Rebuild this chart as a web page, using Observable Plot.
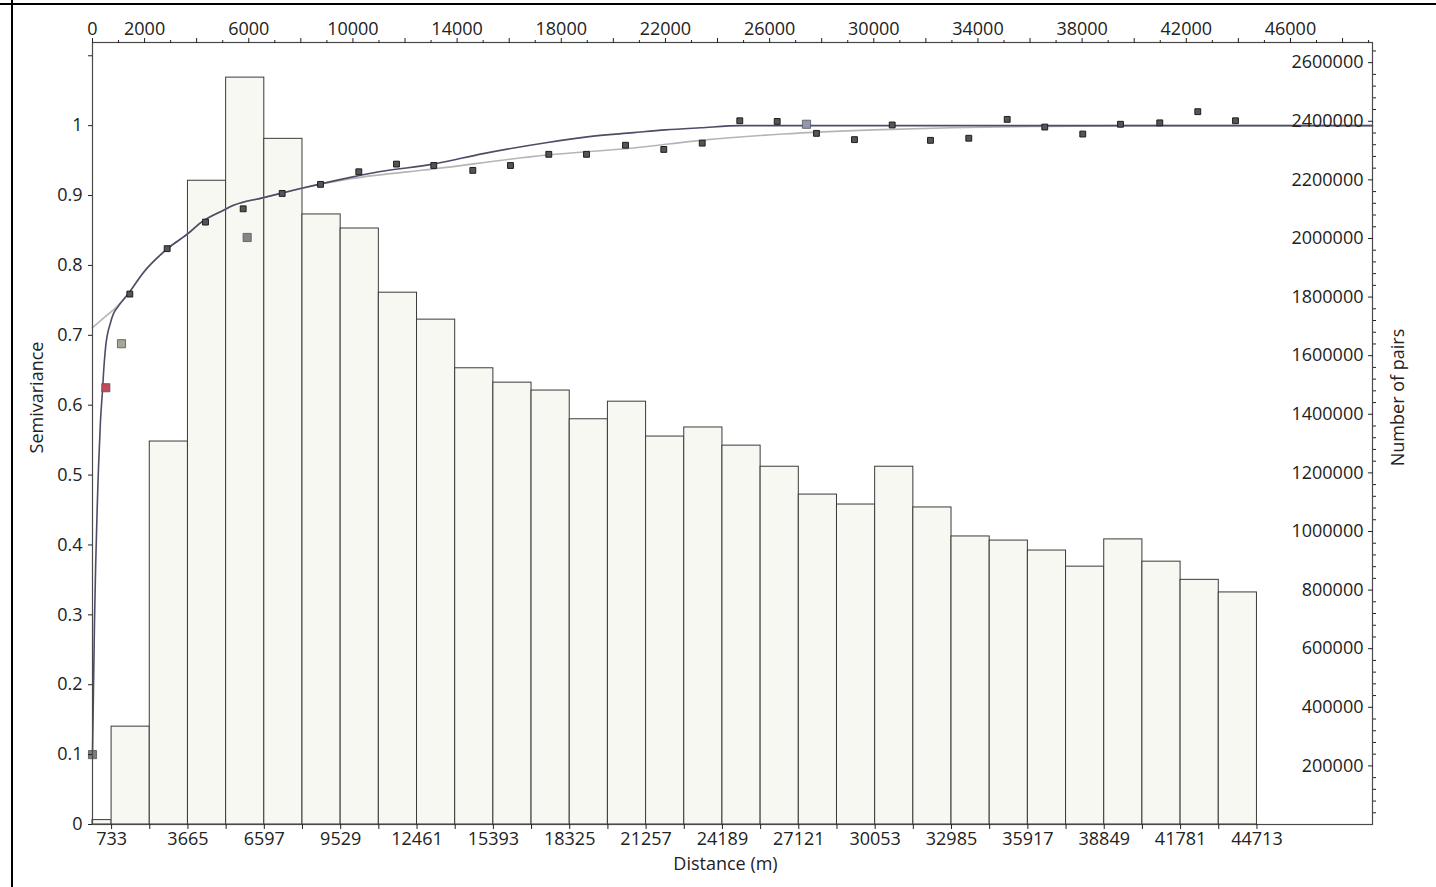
<!DOCTYPE html>
<html><head><meta charset="utf-8">
<script src="https://cdn.jsdelivr.net/npm/d3@7"></script>
<script src="https://cdn.jsdelivr.net/npm/@observablehq/plot@0.6"></script>
<style>
body{margin:0;background:#fff;}
#wrap{position:relative;width:1436px;height:887px;overflow:hidden;}
.hline{position:absolute;left:0;top:3px;width:1436px;height:2px;background:#000;}
.vline{position:absolute;left:11px;top:0;width:2px;height:887px;background:#000;}
</style></head><body>
<div id="wrap"><div id="chart"></div><div class="hline"></div><div class="vline"></div></div>
<script>
// Histogram bins (distance, m) and number of pairs per bin
const binEdges = [0, 733, 2199, 3665, 5131, 6597, 8063, 9529, 10995, 12461, 13927, 15393, 16859, 18325, 19791, 21257, 22723, 24189, 25655, 27121, 28587, 30053, 31519, 32985, 34451, 35917, 37383, 38849, 40315, 41781, 43247, 44713];
const pairCounts = [15000, 334000, 1307000, 2197000, 2549000, 2340000, 2082000, 2034000, 1815000, 1723000, 1557000, 1508000, 1481000, 1383000, 1443000, 1324000, 1355000, 1293000, 1221000, 1126000, 1092000, 1221000, 1082000, 983000, 969000, 935000, 880000, 973000, 897000, 835000, 792000];

// Empirical semivariance (lags)
const lagDist = [1433, 2867, 4339, 5786, 7283, 8755, 10226, 11673, 13105, 14603, 16050, 17521, 18969, 20467, 21937, 23412, 24855, 26291, 27800, 29259, 30707, 32177, 33648, 35123, 36566, 38025, 39473, 40982, 42441, 43889];
const lagSV = [0.759, 0.824, 0.862, 0.881, 0.903, 0.916, 0.934, 0.945, 0.943, 0.936, 0.943, 0.959, 0.959, 0.972, 0.966, 0.975, 1.007, 1.006, 0.989, 0.980, 1.001, 0.979, 0.982, 1.009, 0.998, 0.988, 1.002, 1.004, 1.020, 1.007];

// Highlighted points
const specialDist = [0, 511, 1114, 5939, 27416];
const specialSV = [0.10, 0.625, 0.688, 0.840, 1.002];
const specialColor = ["#7d7d7d", "#c24a5a", "#a3a898", "#858585", "#9494b4"];

// Fitted model curve (dark)
const modelDist = [0, 77, 230, 307, 384, 422, 500, 691, 806, 960, 1382, 1958, 2880, 3648, 4147, 5031, 5415, 6567, 7988, 9908, 11000, 13095, 15000, 17473, 19000, 20776, 22000, 23348, 24885, 26000, 49150];
const modelSV = [0.10, 0.29, 0.51, 0.578, 0.621, 0.645, 0.682, 0.718, 0.731, 0.740, 0.760, 0.790, 0.824, 0.845, 0.861, 0.879, 0.886, 0.897, 0.910, 0.926, 0.934, 0.945, 0.960, 0.976, 0.984, 0.990, 0.994, 0.997, 1.0, 1.0, 1.0];

// Second curve (light gray)
const lightDist = [0, 500, 960, 1382, 1958, 2880, 3648, 4147, 5031, 5415, 6567, 7988, 9908, 13095, 17473, 20776, 23348, 26500, 30000, 33000, 36674, 40000, 49150];
const lightSV = [0.711, 0.727, 0.742, 0.760, 0.790, 0.824, 0.845, 0.861, 0.879, 0.886, 0.897, 0.910, 0.924, 0.938, 0.958, 0.968, 0.979, 0.988, 0.994, 0.997, 0.999, 1.0, 1.0];

// Axis ticks / labels
const topTickLabels = [0, 2000, 6000, 10000, 14000, 18000, 22000, 26000, 30000, 34000, 38000, 42000, 46000];
const bottomTickLabels = [733, 3665, 6597, 9529, 12461, 15393, 18325, 21257, 24189, 27121, 30053, 32985, 35917, 38849, 41781, 44713];
const leftTicks = [0, 0.1, 0.2, 0.3, 0.4, 0.5, 0.6, 0.7, 0.8, 0.9, 1, 1.1];
const leftLabels = ["0", "0.1", "0.2", "0.3", "0.4", "0.5", "0.6", "0.7", "0.8", "0.9", "1", ""];
const rightTicks = [200000, 400000, 600000, 800000, 1000000, 1200000, 1400000, 1600000, 1800000, 2000000, 2200000, 2400000, 2600000];
const PAIRS_PER_SV = 2385000; // right axis scale relative to the semivariance axis

const bars = pairCounts.map((p, i) => ({x1: binEdges[i], x2: binEdges[i + 1], pairs: p}));
const lags = lagDist.map((d, i) => ({d, sv: lagSV[i]}));
const specials = specialDist.map((d, i) => ({d, sv: specialSV[i], c: specialColor[i]}));
const model = modelDist.map((d, i) => ({d, sv: modelSV[i]}));
const light = lightDist.map((d, i) => ({d, sv: lightSV[i]}));

const xMax = 49150;
const topTicks = d3.range(0, 48001, 2000);
const topMinor = d3.range(1000, 49001, 2000);
const rightMinor = d3.range(40000, 2680000, 40000).filter(v => v % 200000 !== 0);

const chart = Plot.plot({
  width: 1436, height: 887,
  marginLeft: 92, marginRight: 64, marginTop: 42, marginBottom: 63,
  style: {fontFamily: "'Open Sans', sans-serif", fontSize: "18px", color: "#222", background: "#fff"},
  x: {domain: [0, xMax], label: null},
  y: {domain: [0, 1.119], label: null},
  color: {type: "identity"},
  marks: [
    Plot.rectY(bars, {x1: "x1", x2: "x2", y1: () => 0, y2: d => d.pairs / PAIRS_PER_SV, fill: "#f8f8f3", stroke: "#3a3a3a", strokeWidth: 1}),
    Plot.line(light, {x: "d", y: "sv", stroke: "#b5b5b5", strokeWidth: 1.6, curve: "monotone-x"}),
    Plot.line(model, {x: "d", y: "sv", stroke: "#4d4d68", strokeWidth: 1.6, curve: "monotone-x"}),
    Plot.dot(lags, {x: "d", y: "sv", symbol: "square", r: 3.3, fill: "#555", stroke: "#1e1e1e", strokeWidth: 1}),
    Plot.dot(specials, {x: "d", y: "sv", symbol: "square", r: 4.6, fill: "c", stroke: "#555", strokeWidth: 0.8}),
    Plot.frame({stroke: "#4a4a4a", strokeWidth: 1.2}),
    // top axis
    Plot.axisX({anchor: "top", label: null, ticks: topTicks, tickSize: 5, tickPadding: 3,
      tickFormat: d => topTickLabels.includes(d) ? String(d) : ""}),
    Plot.axisX({anchor: "top", label: null, ticks: topMinor, tickSize: 3, tickFormat: () => ""}),
    // bottom axis
    Plot.axisX({anchor: "bottom", label: null, ticks: binEdges.slice(1), tickSize: 5, tickPadding: 3,
      tickFormat: d => bottomTickLabels.includes(d) ? String(d) : ""}),
    // left axis
    Plot.axisY({anchor: "left", label: null, ticks: leftTicks, tickSize: 4, tickPadding: 6,
      tickFormat: d => leftLabels[leftTicks.indexOf(d)]}),
    // right axis (number of pairs)
    Plot.axisY({anchor: "right", label: null, ticks: rightTicks.map(v => v / PAIRS_PER_SV), tickSize: -5, tickFormat: () => ""}),
    Plot.axisY({anchor: "right", label: null, ticks: rightMinor.map(v => v / PAIRS_PER_SV), tickSize: 3, tickFormat: () => ""}),
    Plot.text(rightTicks, {frameAnchor: "right", y: v => v / PAIRS_PER_SV, text: v => String(v), textAnchor: "end", lineAnchor: "middle", dx: -9, fontSize: 18, fill: "#222"}),
    // axis titles
    Plot.text(["Semivariance"], {frameAnchor: "left", text: d => d, rotate: -90, textAnchor: "middle", lineAnchor: "middle", dx: -55, dy: -36, fontSize: 18, fill: "#222"}),
    Plot.text(["Number of pairs"], {frameAnchor: "right", text: d => d, rotate: -90, textAnchor: "middle", lineAnchor: "middle", dx: 26, dy: -36, fontSize: 18, fill: "#222"}),
    Plot.text(["Distance (m)"], {frameAnchor: "bottom", text: d => d, textAnchor: "middle", lineAnchor: "middle", dy: 40, dx: -7, fontSize: 18, fill: "#222"})
  ]
});
document.getElementById("chart").appendChild(chart);
</script>
</body></html>
